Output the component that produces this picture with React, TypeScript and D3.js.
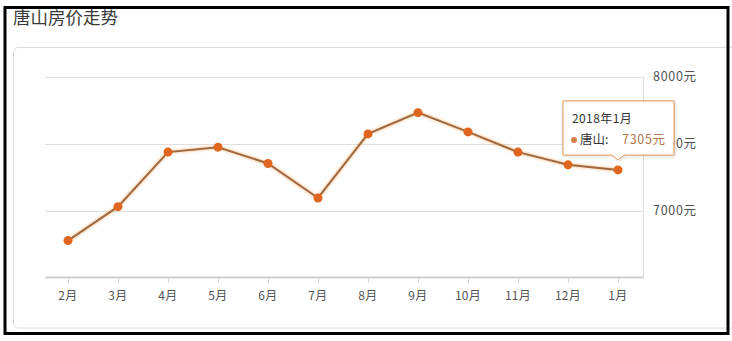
import React from "react";
import * as d3 from "d3";

const months = ["2月", "3月", "4月", "5月", "6月", "7月", "8月", "9月", "10月", "11月", "12月", "1月"];
const prices = [6776, 7030, 7438, 7475, 7353, 7095, 7574, 7733, 7589, 7438, 7343, 7305];
const yTicks = [7000, 7500, 8000];
const title = "唐山房价走势";
const seriesName = "唐山";
const tooltipTitle = "2018年1月";

const W = 732;
const H = 341;
const FONT = '"Noto Sans CJK SC", "Noto Sans", sans-serif';

export default function App() {
  const x = d3.scaleBand<string>().domain(months).range([43, 643]);
  const y = d3.scaleLinear().domain([6500, 8000]).range([277.5, 77]);
  const cx = (m: string) => (x(m) as number) + x.bandwidth() / 2;
  const line = d3
    .line<number>()
    .x((_, i) => cx(months[i]))
    .y((d) => y(d));

  const lastIdx = prices.length - 1;
  const tipX = cx(months[lastIdx]);
  const tipY = y(prices[lastIdx]);
  const boxL = 563;
  const boxR = 674;
  const boxT = 101;
  const boxB = 155;
  const arrowTip = tipY - 10;
  const tipPath = `M${boxL},${boxT} H${boxR} V${boxB} H${tipX + 6} L${tipX},${arrowTip} L${tipX - 6},${boxB} H${boxL} Z`;

  return (
    <svg
      width={W}
      height={H}
      style={{ position: "absolute", left: 0, top: 0, background: "#fff" }}
      fontFamily={FONT}
    >
      <defs>
        <filter id="glow" x="-20%" y="-20%" width="140%" height="140%">
          <feGaussianBlur stdDeviation="1.2" />
        </filter>
        <filter id="shadow" x="-10%" y="-10%" width="130%" height="130%">
          <feDropShadow dx="1" dy="1" stdDeviation="1.5" floodColor="#000" floodOpacity="0.15" />
        </filter>
      </defs>
      <rect x={0} y={0} width={W} height={H} fill="#fff" />
      {/* title */}
      <text x={13} y={24} fontSize={17.5} fill="#3a3a3a">
        {title}
      </text>
      {/* panel */}
      <rect x={13.5} y={47.5} width={740} height={280.5} rx={5} fill="none" stroke="#dcdcdc" strokeWidth={1} />

      {/* grid */}
      {yTicks.map((t) => (
        <line key={t} x1={45} x2={643} y1={Math.round(y(t)) + 0.5} y2={Math.round(y(t)) + 0.5} stroke="#dedede" strokeWidth={1} />
      ))}
      {/* right border of plot */}
      <line x1={643.5} x2={643.5} y1={77} y2={278} stroke="#dedede" strokeWidth={1} />
      {/* x axis */}
      <line x1={45} x2={643} y1={277.5} y2={277.5} stroke="#d0d0d0" strokeWidth={2} />
      {months.map((m) => (
        <g key={m}>
          <line x1={cx(m) + 0.5} x2={cx(m) + 0.5} y1={278} y2={283} stroke="#d8d8d8" strokeWidth={1} />
          <text x={cx(m)} y={300} fontSize={12} fill="#555" textAnchor="middle" letterSpacing={0.3}>
            {m}
          </text>
        </g>
      ))}
      {/* y labels */}
      {yTicks.map((t) => (
        <text key={t} x={653} y={y(t) + 4} fontSize={12.5} fill="#555" letterSpacing={0.7}>
          {t}元
        </text>
      ))}

      {/* line */}
      <path d={line(prices) || ""} fill="none" stroke="#f5b070" strokeWidth={4} opacity={0.5} filter="url(#glow)" />
      <path d={line(prices) || ""} fill="none" stroke="#a0693f" strokeWidth={2} />
      {prices.map((p, i) => (
        <circle key={i} cx={cx(months[i])} cy={y(p)} r={4.5} fill="#e0661f" />
      ))}

      {/* tooltip */}
      <path d={tipPath} fill="#fff" stroke="#e8a56c" strokeWidth={1} filter="url(#shadow)" />
      <path d={tipPath} fill="#fff" stroke="#e8a56c" strokeWidth={1} />
      <text x={572} y={123} fontSize={12} fill="#333" letterSpacing={0.4}>
        {tooltipTitle}
      </text>
      <circle cx={574} cy={140} r={3} fill="#d0804a" />
      <text x={580} y={144} fontSize={12.5} fill="#333">
        {seriesName}:
      </text>
      <text x={622} y={144} fontSize={12.5} fill="#b07850" letterSpacing={0.7}>
        {prices[lastIdx]}元
      </text>

      {/* black frame */}
      <rect x={5} y={7.5} width={723} height={326} fill="none" stroke="#000" strokeWidth={3} />
    </svg>
  );
}
